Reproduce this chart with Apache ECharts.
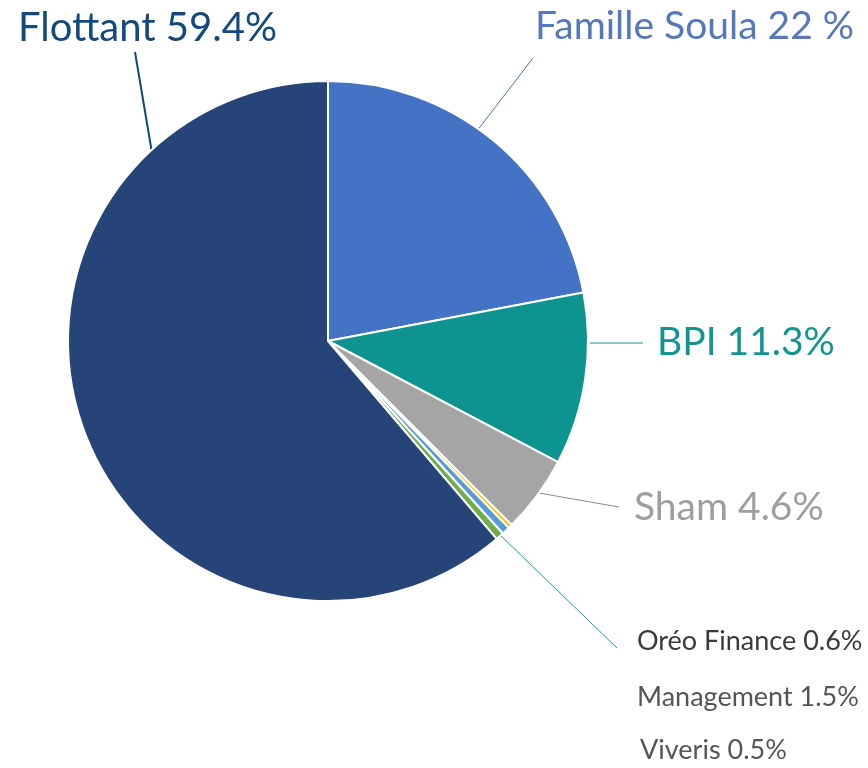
<!DOCTYPE html>
<html>
<head>
<meta charset="utf-8">
<script src="https://cdn.jsdelivr.net/npm/echarts@6/dist/echarts.min.js"></script>
<style>
  html, body { margin: 0; padding: 0; background: #fff; }
  #chart { width: 868px; height: 768px; }
</style>
</head>
<body>
<div id="chart"></div>
<script>
// slices clockwise from 12 o'clock
const names = ["Famille Soula", "BPI", "Sham", "Oréo Finance", "Management", "Viveris", "Flottant"];
// slice sizes as drawn in the picture
const values = [22, 10.7, 4.8, 0.25, 0.5, 0.5, 61.2];
// percentages printed on the labels
const shownPct = ["22 %", "11.3%", "4.6%", "0.6%", "1.5%", "0.5%", "59.4%"];

const sliceColors = ["#4472C4", "#0E9490", "#A5A5A5", "#FFC000", "#5B9BD5", "#70AD47", "#264478"];
const textColors = ["#5578BC", "#14948F", "#9E9E9E", "#3A3A3A", "#555555", "#555555", "#124A7D"];
const lineColors = ["#4472C4", "#0E9490", "#8C8C8C", "#1A9AAA", null, null, "#0D4A7F"];

// label placement: [x, y, fontSize, line start, line end]
const labelPlace = [
  [535, 26, 39, [460, 153], [533, 58]],
  [657, 342, 39, [590, 343], [643, 343]],
  [634, 507, 39, [533, 492], [619, 507]],
  [637, 641, 27, [497, 532], [617, 648]],
  [637, 697, 27, null, null],
  [640, 750, 27, null, null],
  [18, 28, 40, [152, 153], [135, 52]]
];

const chart = echarts.init(document.getElementById("chart"));

const data = names.map((n, i) => ({
  name: n,
  value: values[i],
  itemStyle: { color: sliceColors[i] },
  label: {
    color: textColors[i],
    fontSize: labelPlace[i][2]
  },
  labelLine: {
    show: lineColors[i] !== null,
    lineStyle: { color: lineColors[i] || "#000", width: i === 6 ? 2 : 1 }
  }
}));

chart.setOption({
  animation: false,
  series: [{
    type: "pie",
    center: [328, 341],
    radius: 260,
    startAngle: 90,
    clockwise: true,
    avoidLabelOverlap: false,
    itemStyle: { borderColor: "#fff", borderWidth: 2 },
    label: {
      show: true,
      position: "outside",
      fontFamily: "Lato",
      formatter: p => p.name + " " + shownPct[p.dataIndex]
    },
    labelLine: { show: true, length: 10, length2: 10 },
    labelLayout: function (params) {
      const lp = labelPlace[params.dataIndex];
      const out = { x: lp[0], y: lp[1], align: "left", verticalAlign: "middle" };
      if (lp[3]) {
        const a = lp[3], b = lp[4];
        out.labelLinePoints = [a, [(a[0] + b[0]) / 2, (a[1] + b[1]) / 2], b];
      }
      return out;
    },
    data: data
  }]
});
</script>
</body>
</html>
